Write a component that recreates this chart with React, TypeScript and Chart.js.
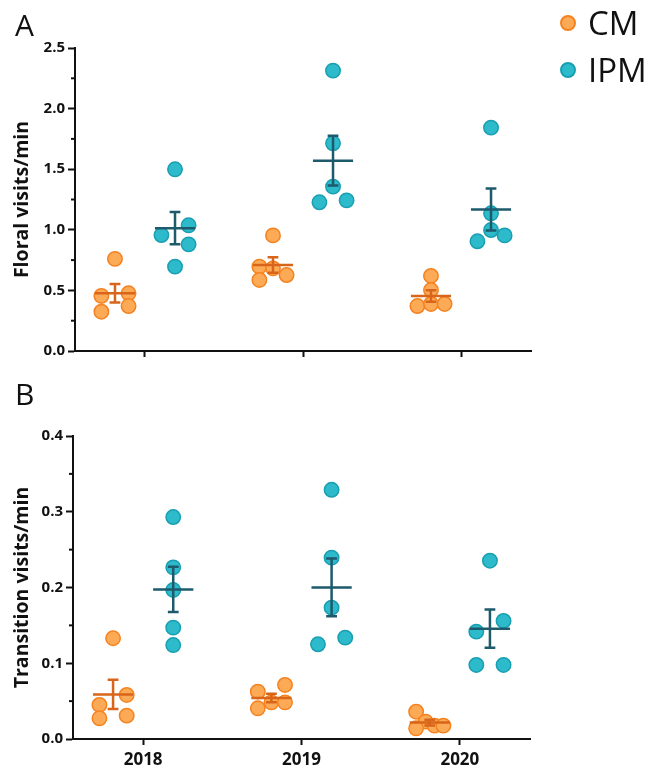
import React, { useEffect, useRef } from 'react';
import { Chart, registerables } from 'chart.js';
Chart.register(...registerables);

// ---- data ----
const years = ['2018', '2019', '2020'];

// Floral visits/min (panel A), per year
const floralCM = [
  [0.76, 0.454, 0.476, 0.324, 0.371],
  [0.954, 0.696, 0.682, 0.586, 0.627],
  [0.619, 0.503, 0.371, 0.388, 0.388],
];
const floralIPM = [
  [1.499, 0.957, 1.037, 0.88, 0.696],
  [2.313, 1.714, 1.356, 1.227, 1.243],
  [1.843, 1.136, 0.998, 0.905, 0.954],
];

// Transition visits/min (panel B), per year
const transCM = [
  [0.133, 0.0449, 0.0581, 0.0273, 0.0308],
  [0.0625, 0.0713, 0.0405, 0.0484, 0.0484],
  [0.036, 0.0229, 0.0176, 0.0141, 0.0176],
];
const transIPM = [
  [0.293, 0.2266, 0.1967, 0.147, 0.124],
  [0.329, 0.2394, 0.1733, 0.125, 0.1338],
  [0.2354, 0.1558, 0.1417, 0.0977, 0.0977],
];

// scatter jitter lanes (-1 left, 0 centre, 1 right)
const floralCMLanes = [[0, -1, 1, -1, 1], [0, -1, 0, -1, 1], [0, 0, -1, 0, 1]];
const floralIPMLanes = [[0, -1, 1, 1, 0], [0, 0, 0, -1, 1], [0, 0, 0, -1, 1]];
const transCMLanes = [[0, -1, 1, -1, 1], [-1, 1, -1, 0, 1], [-1, -0.3, 0.35, -1, 1]];
const transIPMLanes = [[0, 0, 0, 0, 0], [0, 0, 0, -1, 1], [0, 1, -1, -1, 1]];

// ---- styling constants ----
const GROUP_OFFSET = 0.19;
const LANE_STEP = 0.086;
const MEAN_HALF = 0.127;
const CAP_HALF = 0.034;
const CM_FILL = '#FDAA57';
const CM_BORDER = '#F5821F';
const CM_LINE = '#D8651A';
const IPM_FILL = '#2DBACB';
const IPM_BORDER = '#189FB1';
const IPM_LINE = '#1C5A6C';
const FONT = "'Open Sans', 'DejaVu Sans', sans-serif";

function toPoints(groups: number[][], lanes: number[][], offset: number) {
  const pts: { x: number; y: number }[] = [];
  groups.forEach((vals, i) => {
    vals.forEach((v, j) => {
      pts.push({ x: i + offset + lanes[i][j] * LANE_STEP, y: v });
    });
  });
  return pts;
}

function meanSem(vals: number[]) {
  const n = vals.length;
  const m = vals.reduce((a, b) => a + b, 0) / n;
  const sd = Math.sqrt(vals.reduce((a, b) => a + (b - m) * (b - m), 0) / (n - 1));
  return { m, sem: sd / Math.sqrt(n) };
}

const meanSemPlugin = {
  id: 'meanSem',
  afterDatasetsDraw(chart: any, _args: any, opts: any) {
    const { ctx, scales } = chart;
    const xs = scales.x;
    const ys = scales.y;
    (opts.groups || []).forEach((g: any) => {
      g.data.forEach((vals: number[], i: number) => {
        const { m, sem } = meanSem(vals);
        const cx = i + g.offset;
        const px = xs.getPixelForValue(cx);
        const x0 = xs.getPixelForValue(cx - MEAN_HALF);
        const x1 = xs.getPixelForValue(cx + MEAN_HALF);
        const c0 = xs.getPixelForValue(cx - CAP_HALF);
        const c1 = xs.getPixelForValue(cx + CAP_HALF);
        const pm = ys.getPixelForValue(m);
        const pt = ys.getPixelForValue(m + sem);
        const pb = ys.getPixelForValue(m - sem);
        ctx.save();
        ctx.strokeStyle = g.color;
        ctx.lineWidth = 2.5;
        ctx.beginPath();
        ctx.moveTo(x0, pm);
        ctx.lineTo(x1, pm);
        ctx.moveTo(px, pt);
        ctx.lineTo(px, pb);
        ctx.moveTo(c0, pt);
        ctx.lineTo(c1, pt);
        ctx.moveTo(c0, pb);
        ctx.lineTo(c1, pb);
        ctx.stroke();
        ctx.restore();
      });
    });
  },
};

const minorTickPlugin = {
  id: 'minorTicks',
  afterDraw(chart: any) {
    const ys = chart.scales.y;
    const { ctx, chartArea } = chart;
    const ticks = ys.ticks;
    ctx.save();
    ctx.strokeStyle = '#111';
    ctx.lineWidth = 2;
    for (let i = 0; i < ticks.length - 1; i++) {
      const v = (ticks[i].value + ticks[i + 1].value) / 2;
      const p = ys.getPixelForValue(v);
      ctx.beginPath();
      ctx.moveTo(chartArea.left - 4, p);
      ctx.lineTo(chartArea.left, p);
      ctx.stroke();
    }
    ctx.restore();
  },
};

type PanelCfg = {
  cm: number[][];
  ipm: number[][];
  cmLanes: number[][];
  ipmLanes: number[][];
  yMax: number;
  yStep: number;
  yTitle: string;
  showX: boolean;
  width: number;
  height: number;
  padTop: number;
  padRight: number;
  yWidth: number;
  xHeight: number;
};

function Panel({ cfg }: { cfg: PanelCfg }) {
  const ref = useRef<HTMLCanvasElement | null>(null);
  useEffect(() => {
    if (!ref.current) return;
    const chart = new Chart(ref.current, {
      type: 'scatter',
      data: {
        datasets: [
          {
            label: 'CM',
            data: toPoints(cfg.cm, cfg.cmLanes, -GROUP_OFFSET),
            backgroundColor: CM_FILL,
            borderColor: CM_BORDER,
            borderWidth: 1.5,
            pointRadius: 7.2,
          },
          {
            label: 'IPM',
            data: toPoints(cfg.ipm, cfg.ipmLanes, GROUP_OFFSET),
            backgroundColor: IPM_FILL,
            borderColor: IPM_BORDER,
            borderWidth: 1.5,
            pointRadius: 7.2,
          },
        ],
      },
      options: {
        responsive: false,
        animation: false,
        clip: false,
        layout: { padding: { top: cfg.padTop, right: cfg.padRight, left: 0, bottom: 0 } },
        plugins: {
          legend: { display: false },
          tooltip: { enabled: false },
          meanSem: {
            groups: [
              { data: cfg.cm, offset: -GROUP_OFFSET, color: CM_LINE },
              { data: cfg.ipm, offset: GROUP_OFFSET, color: IPM_LINE },
            ],
          },
        } as any,
        scales: {
          x: {
            type: 'linear',
            min: -0.443,
            max: 2.443,
            afterBuildTicks: (s: any) => {
              s.ticks = years.map((_, i) => ({ value: i }));
            },
            afterFit: (s: any) => {
              s.height = cfg.xHeight;
            },
            ticks: {
              display: cfg.showX,
              callback: (v: any) => years[Math.round(Number(v))] ?? '',
              font: { family: FONT, weight: 'bold', size: 17 },
              color: '#111',
              padding: 5,
              maxRotation: 0,
              autoSkip: false,
            },
            grid: {
              display: true,
              drawOnChartArea: false,
              drawTicks: true,
              tickLength: 6,
              tickWidth: 2,
              tickColor: '#111',
            },
            border: { display: true, color: '#111', width: 2 },
          },
          y: {
            min: 0,
            max: cfg.yMax,
            afterFit: (s: any) => {
              s.width = cfg.yWidth;
            },
            ticks: {
              stepSize: cfg.yStep,
              callback: (v: any) => Number(v).toFixed(1),
              font: { family: FONT, weight: 'bold', size: 15 },
              color: '#111',
              padding: 3,
            },
            grid: {
              display: true,
              drawOnChartArea: false,
              drawTicks: true,
              tickLength: 7,
              tickWidth: 2,
              tickColor: '#111',
            },
            border: { display: true, color: '#111', width: 2 },
            title: {
              display: true,
              text: cfg.yTitle,
              font: { family: FONT, weight: 'bold', size: 19.5 },
              color: '#111',
              padding: { top: 11, bottom: 0 },
            },
          },
        },
      } as any,
      plugins: [meanSemPlugin, minorTickPlugin],
    });
    return () => chart.destroy();
  }, [cfg]);
  return (
    <canvas
      ref={ref}
      width={cfg.width}
      height={cfg.height}
      style={{ width: cfg.width, height: cfg.height, display: 'block' }}
    />
  );
}

const panelA: PanelCfg = {
  cm: floralCM,
  ipm: floralIPM,
  cmLanes: floralCMLanes,
  ipmLanes: floralIPMLanes,
  yMax: 2.5,
  yStep: 0.5,
  yTitle: 'Floral visits/min',
  showX: false,
  width: 652,
  height: 370,
  padTop: 48,
  padRight: 121,
  yWidth: 75,
  xHeight: 19,
};

const panelB: PanelCfg = {
  cm: transCM,
  ipm: transIPM,
  cmLanes: transCMLanes,
  ipmLanes: transIPMLanes,
  yMax: 0.4,
  yStep: 0.1,
  yTitle: 'Transition visits/min',
  showX: true,
  width: 652,
  height: 399,
  padTop: 66,
  padRight: 122,
  yWidth: 73,
  xHeight: 30,
};

const letterStyle: React.CSSProperties = {
  position: 'absolute',
  fontFamily: FONT,
  fontSize: 30,
  lineHeight: '30px',
  color: '#111',
  margin: 0,
};

function LegendItem({ top, label, fill, border }: { top: number; label: string; fill: string; border: string }) {
  return (
    <div style={{ position: 'absolute', left: 560, top, height: 33, display: 'flex', alignItems: 'center' }}>
      <div
        style={{
          width: 12,
          height: 12,
          borderRadius: '50%',
          background: fill,
          border: `2px solid ${border}`,
          marginRight: 12,
        }}
      />
      <span style={{ fontFamily: FONT, fontSize: 33, lineHeight: '33px', color: '#111' }}>{label}</span>
    </div>
  );
}

export default function App() {
  return (
    <div style={{ position: 'absolute', left: 0, top: 0, width: 652, height: 769, background: '#fff', overflow: 'hidden' }}>
      <div style={{ position: 'absolute', left: 0, top: 0 }}>
        <Panel cfg={panelA} />
      </div>
      <div style={{ position: 'absolute', left: 0, top: 370 }}>
        <Panel cfg={panelB} />
      </div>
      <div style={{ ...letterStyle, left: 15, top: 10 }}>A</div>
      <div style={{ ...letterStyle, left: 15, top: 379 }}>B</div>
      <LegendItem top={6} label="CM" fill={CM_FILL} border={CM_BORDER} />
      <LegendItem top={53} label="IPM" fill={IPM_FILL} border={IPM_BORDER} />
    </div>
  );
}
